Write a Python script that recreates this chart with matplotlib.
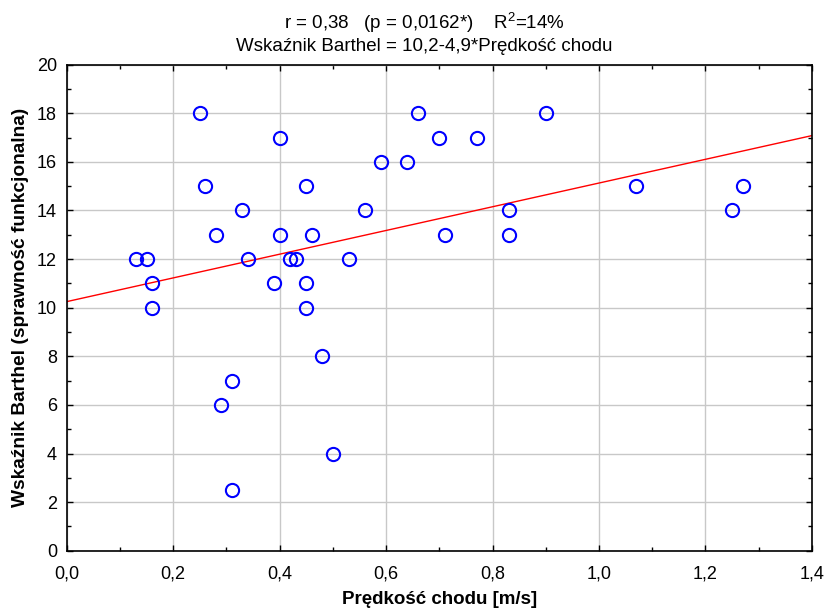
import matplotlib
matplotlib.use("Agg")
import matplotlib.pyplot as plt
from matplotlib.ticker import MultipleLocator, FuncFormatter

# dane
predkosc = [0.13, 0.15, 0.16, 0.16, 0.25, 0.26, 0.28, 0.29, 0.31, 0.31,
            0.33, 0.34, 0.39, 0.40, 0.40, 0.42, 0.43, 0.45, 0.45, 0.45,
            0.46, 0.48, 0.50, 0.53, 0.56, 0.59, 0.64, 0.66, 0.70, 0.71,
            0.77, 0.83, 0.83, 0.90, 1.07, 1.25, 1.27]
barthel = [12, 12, 11, 10, 18, 15, 13, 6, 7, 2.5,
           14, 12, 11, 17, 13, 12, 12, 15, 11, 10,
           13, 8, 4, 12, 14, 16, 16, 18, 17, 13,
           17, 14, 13, 18, 15, 14, 15]
wyraz_wolny = 10.25
nachylenie = 4.88

plt.rcParams['font.family'] = ['Liberation Sans', 'DejaVu Sans']
plt.rcParams['mathtext.default'] = 'regular'

fig = plt.figure(figsize=(8.26, 6.09), dpi=100)
ax = fig.add_axes([0.0808, 0.0957, 0.9022, 0.7981])

ax.grid(True, color='#c8c8c8', linewidth=1.0)
ax.set_axisbelow(True)

xs = [0.0, 1.4]
ax.plot(xs, [wyraz_wolny + nachylenie * x for x in xs], color='red', lw=1.0, zorder=2)
ax.plot(predkosc, barthel, 'o', mfc='none', mec='#0000ff', ms=9.5, mew=1.5, zorder=3)

ax.set_xlim(0, 1.4)
ax.set_ylim(0, 20)
ax.xaxis.set_major_locator(MultipleLocator(0.2))
ax.xaxis.set_minor_locator(MultipleLocator(0.1))
ax.yaxis.set_major_locator(MultipleLocator(2))
ax.yaxis.set_minor_locator(MultipleLocator(1))
ax.xaxis.set_major_formatter(FuncFormatter(lambda v, p: f"{v:.1f}".replace('.', ',')))
ax.tick_params(which='both', direction='in', top=True, right=True, labelsize=13, width=1.0)
ax.tick_params(which='major', length=4)
ax.tick_params(axis='x', which='major', pad=11)
ax.tick_params(axis='y', which='major', pad=7)
ax.tick_params(which='minor', length=3)
for s in ax.spines.values():
    s.set_linewidth(1.2)

ax.set_xlabel('Prędkość chodu [m/s]', fontsize=13.5, fontweight='bold', labelpad=6)
ax.set_ylabel('Wskaźnik Barthel (sprawność funkcjonalna)', fontsize=13.8, fontweight='bold', labelpad=6)

tytul = 'r = 0,38   (p = 0,0162*)    R$^2$=14%\nWskaźnik Barthel = 10,2-4,9*Prędkość chodu'
ax.set_title(tytul, fontsize=13.5, linespacing=1.25, pad=10, x=0.48)

fig.savefig('out.png', dpi=100)
